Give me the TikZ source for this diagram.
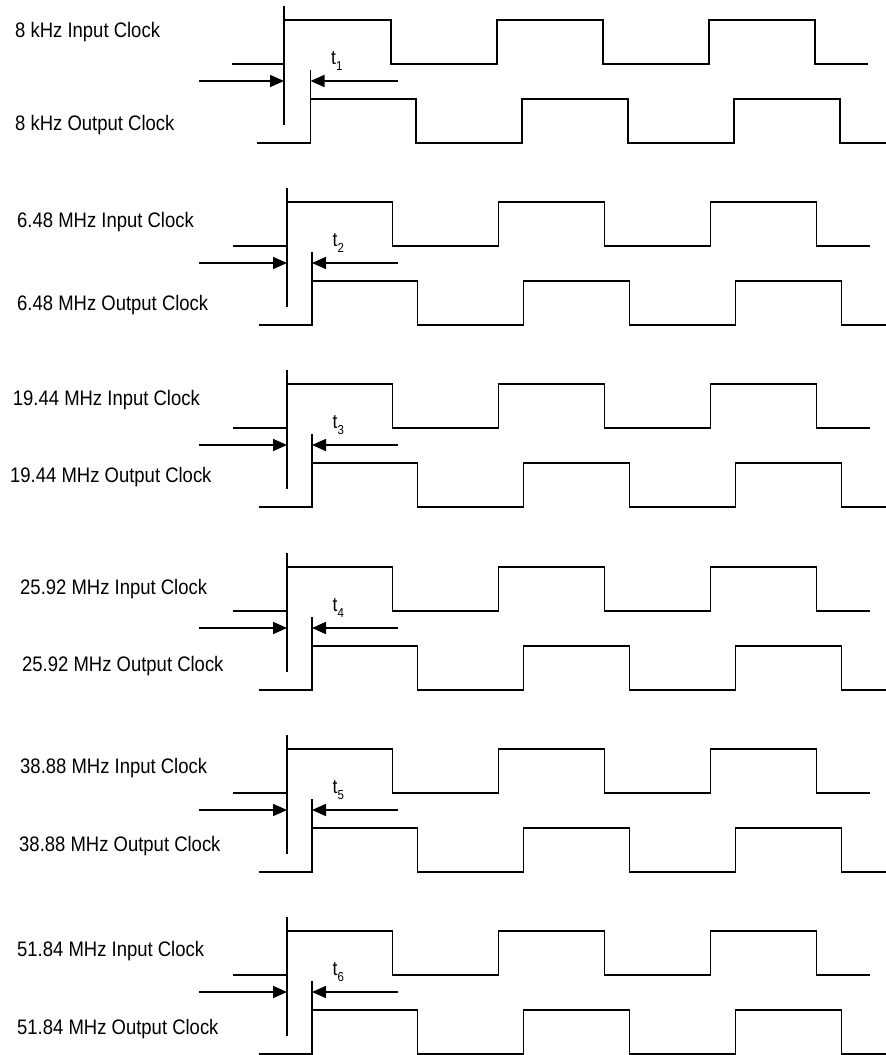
\documentclass[tikz,border=0pt]{standalone}
\usepackage{fontspec}
\setmainfont[FakeStretch=0.88]{Liberation Sans}
\usetikzlibrary{arrows.meta}
\tikzset{
  wave/.style={line width=1.7pt, line join=miter, black},
  dimarrow/.style={line width=1.7pt, -{Triangle[length=14pt,width=12pt]}},
  lab/.style={anchor=base west, inner sep=0pt, font=\fontsize{21}{21}\selectfont},
  tlab/.style={anchor=base west, inner sep=0pt, font=\fontsize{20}{20}\selectfont}
}
\newcommand\tsubscr[1]{\raisebox{-6pt}{\fontsize{13}{13}\selectfont #1}}
% #1 index, #2 top y, #3 input rise x, #4 shift, #5 in-label x, #6 in-label baseline,
% #7 out-label x, #8 out-label baseline, #9 frequency text
\newcommand\clockblock[9]{%
  \begin{scope}[shift={(0,#2)}]
    % input clock
    \draw[wave] (232+#4*0.67,44) -- (#3,44) -- (#3,0) -- (391+#4,0) -- (391+#4,44)
      -- (497+#4,44) -- (497+#4,0) -- (603+#4,0) -- (603+#4,44) -- (709+#4,44)
      -- (709+#4,0) -- (815+#4,0) -- (815+#4,44) -- (868+#4,44);
    \draw[wave] (#3,-14) -- (#3,105);
    % output clock
    \draw[wave] (257+#4,123) -- (310.5+#4,123) -- (310.5+#4,79) -- (416+#4,79) -- (416+#4,123)
      -- (522+#4,123) -- (522+#4,79) -- (628+#4,79) -- (628+#4,123) -- (734+#4,123)
      -- (734+#4,79) -- (840+#4,79) -- (840+#4,123) -- (886,123);
    \draw[wave] (310.5+#4,50) -- (310.5+#4,79);
    % delay arrows
    \coordinate (la#1) at (199,61);
    \coordinate (ia#1) at (#3,61);
    \coordinate (ra#1) at (397.5,61);
    \coordinate (oa#1) at (310.5+#4,61);
    \draw[dimarrow] (la#1) -- (ia#1);
    \draw[dimarrow] (ra#1) -- (oa#1);
    \node[tlab] (t#1) at (331+#4,44.5) {t\tsubscr{#1}};
  \end{scope}
  \node[lab] (inl#1) at (#5,#6) {#9 Input Clock};
  \node[lab] (outl#1) at (#7,#8) {#9 Output Clock};
}
\begin{document}
\begin{tikzpicture}[x=1pt,y=-1pt]
\useasboundingbox (0,0) rectangle (886,1055);
\clockblock{1}{20}{284}{0}{15}{37}{15}{130.5}{8 kHz}
\clockblock{2}{202}{287}{1.5}{17}{227}{17}{310.5}{6.48 MHz}
\clockblock{3}{384}{287}{1.5}{12.7}{405.5}{10}{482.5}{19.44 MHz}
\clockblock{4}{567}{287}{1.5}{20}{594}{22}{671}{25.92 MHz}
\clockblock{5}{749}{287}{1.5}{20}{773}{19}{851.5}{38.88 MHz}
\clockblock{6}{931}{287}{1.5}{17}{956}{17}{1034}{51.84 MHz}
\end{tikzpicture}
\end{document}
